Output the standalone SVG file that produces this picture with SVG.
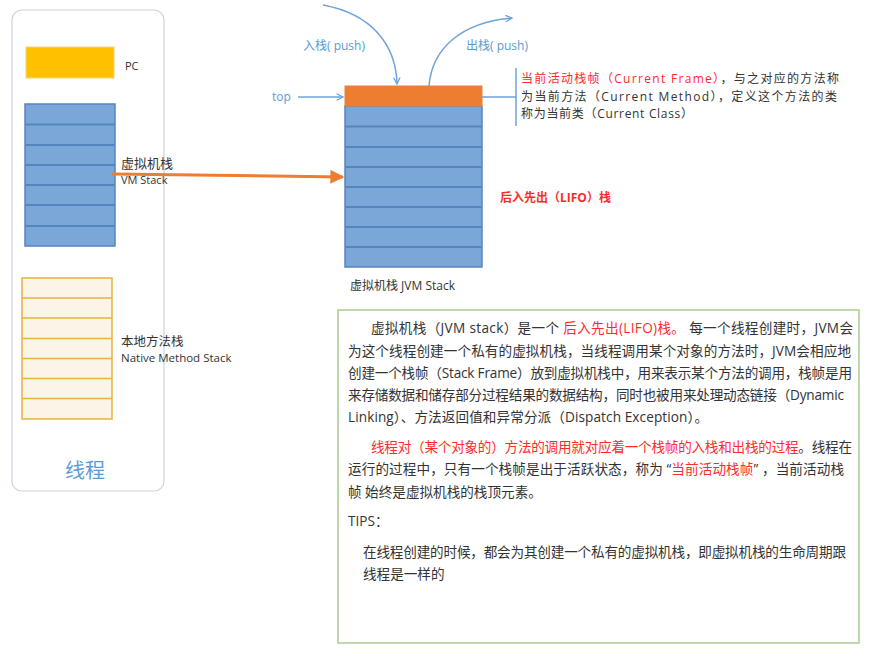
<svg xmlns="http://www.w3.org/2000/svg" width="877" height="659" viewBox="0 0 877 659">
<style>
text{font-family:"Open Sans","Noto Sans CJK SC",sans-serif;fill:#333}
.blue{fill:#7BA7D8;stroke:#5585BE;stroke-width:1.5}
.row{stroke:#5585BE;stroke-width:2}
.nat{fill:#FDF4E8;stroke:#E4B43E;stroke-width:1.5}
.nrow{stroke:#E4B43E;stroke-width:1.5}
.red{fill:#FF2B2B}
.lbl{font-size:12px}
.body{font-size:13.6px}
.note{font-size:12px}
.conn{fill:none;stroke:#6FA3D8;stroke-width:1.5}
</style>
<defs>
<marker id="ab" viewBox="0 0 10 10" refX="9" refY="5" markerWidth="8" markerHeight="8" markerUnits="userSpaceOnUse" orient="auto"><path d="M1,1 L9,5 L1,9" fill="none" stroke="#6FA3D8" stroke-width="1.6"/></marker>
<marker id="ao" viewBox="0 0 10 10" refX="9" refY="5" markerWidth="16" markerHeight="14" markerUnits="userSpaceOnUse" orient="auto"><path d="M0,0 L10,5 L0,10 z" fill="#ED7D31"/></marker>
</defs>

<g id="thread">
<rect x="12" y="10" width="152" height="481" rx="10" fill="#fff" stroke="#CBD3DE" stroke-width="1.2"/>
<text x="85" y="478" text-anchor="middle" style="font-size:20px;fill:#5B9BD5">线程</text>
</g>

<g id="pc">
<rect x="26" y="47" width="88" height="31" fill="#FFC000" stroke="#F5D37A" stroke-width="1"/>
<text x="125" y="70" class="lbl" style="font-size:11px">PC</text>
</g>

<g id="vm-stack">
<rect x="25" y="104" width="90" height="142" class="blue"/>
<path class="row" d="M25,124.5H115M25,145H115M25,165H115M25,185H115M25,205H115M25,226H115"/>
<text x="121" y="168" style="font-size:13px">虚拟机栈</text>
<text x="121" y="184" style="font-size:11px">VM Stack</text>
</g>

<g id="native-stack">
<rect x="22" y="278" width="90" height="141" class="nat"/>
<path class="nrow" d="M22,298H112M22,318H112M22,338.5H112M22,358.5H112M22,378.5H112M22,398.5H112"/>
<text x="121" y="346" style="font-size:12.5px">本地方法栈</text>
<text x="121" y="362" style="font-size:11.5px">Native Method Stack</text>
</g>

<g id="jvm-stack">
<rect x="345" y="106" width="137" height="161" class="blue"/>
<path class="row" d="M345,126.5H482M345,147H482M345,167H482M345,187H482M345,207H482M345,227H482M345,247H482"/>
<rect x="345" y="86" width="137" height="20" fill="#ED7D31" stroke="#E8823F" stroke-width="1"/>
<text x="350" y="290" style="font-size:12px">虚拟机栈 JVM Stack</text>
<text x="500" y="202" class="red" style="font-size:12px;font-weight:bold">后入先出（LIFO）栈</text>
</g>

<g id="labels">
<text x="272" y="101" style="font-size:12px;fill:#5B9BD5">top</text>
<text x="303" y="50" style="font-size:12px;fill:#5B9BD5">入栈( push)</text>
<text x="466" y="50" style="font-size:12px;fill:#5B9BD5">出栈( push)</text>
</g>

<g id="current-frame-note">
<text class="note" x="521" y="83" textLength="318" lengthAdjust="spacing"><tspan class="red">当前活动栈帧（Current Frame）</tspan>，与之对应的方法称</text>
<text class="note" x="521" y="100.5" textLength="316" lengthAdjust="spacing">为当前方法（Current Method），定义这个方法的类</text>
<text class="note" x="521" y="118" textLength="172" lengthAdjust="spacing">称为当前类（Current Class）</text>
</g>

<g id="connectors">
<line x1="112" y1="174" x2="343" y2="177" stroke="#ED7D31" stroke-width="3" marker-end="url(#ao)"/>
<line x1="298" y1="97" x2="343" y2="97" class="conn" stroke-width="2" marker-end="url(#ab)"/>
<path d="M323,5 C372,14 396,45 397,84" class="conn" marker-end="url(#ab)"/>
<path d="M429,86 C432,48 462,22 512,18" class="conn" marker-end="url(#ab)"/>
<path d="M482,97 H516 M516,68 V126" class="conn" stroke="#7FAEDD"/>
</g>

<g id="description">
<rect x="338" y="310" width="521" height="333" fill="#fff" stroke="#A9CD8E" stroke-width="1.5"/>
<text class="body" x="371" y="333" textLength="482" lengthAdjust="spacing">虚拟机栈（JVM stack）是一个 <tspan class="red">后入先出(LIFO)栈。</tspan> 每一个线程创建时，JVM会</text>
<text class="body" x="348" y="356" textLength="503" lengthAdjust="spacing">为这个线程创建一个私有的虚拟机栈，当线程调用某个对象的方法时，JVM会相应地</text>
<text class="body" x="348" y="378" textLength="504" lengthAdjust="spacing">创建一个栈帧（Stack Frame）放到虚拟机栈中，用来表示某个方法的调用，栈帧是用</text>
<text class="body" x="348" y="400" textLength="496" lengthAdjust="spacing">来存储数据和储存部分过程结果的数据结构，同时也被用来处理动态链接（Dynamic</text>
<text class="body" x="348" y="422" textLength="360" lengthAdjust="spacing">Linking）、方法返回值和异常分派（Dispatch Exception）。</text>
<text class="body" x="371" y="452" textLength="481" lengthAdjust="spacing"><tspan class="red">线程对（某个对象的）方法的调用就对应着一个栈帧的入栈和出栈的过程</tspan>。线程在</text>
<text class="body" x="348" y="474" textLength="496" lengthAdjust="spacing">运行的过程中，只有一个栈帧是出于活跃状态，称为 “<tspan class="red">当前活动栈帧</tspan>” ，当前活动栈</text>
<text class="body" x="348" y="497">帧 始终是虚拟机栈的栈顶元素。</text>
<text class="body" x="348" y="526">TIPS：</text>
<text class="body" x="363" y="557" textLength="483" lengthAdjust="spacing">在线程创建的时候，都会为其创建一个私有的虚拟机栈，即虚拟机栈的生命周期跟</text>
<text class="body" x="363" y="579">线程是一样的</text>
</g>
</svg>
